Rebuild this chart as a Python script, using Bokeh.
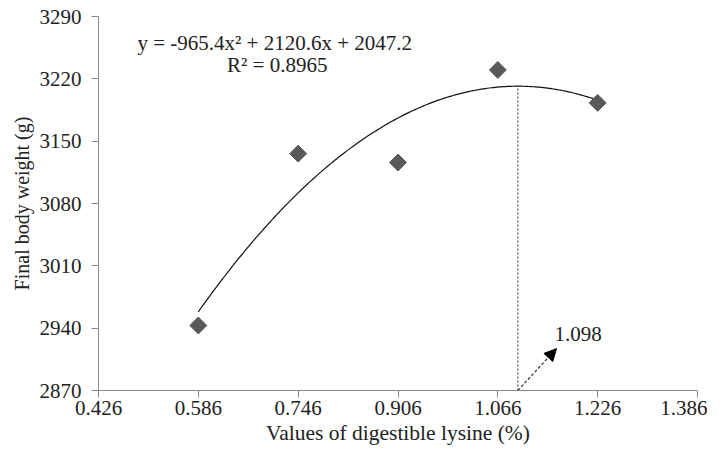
import numpy as np
from bokeh.plotting import figure
from bokeh.models import FixedTicker, Range1d, Arrow, NormalHead, Label
from bokeh.embed import file_html
from bokeh.resources import INLINE

# data
lysine = [0.586, 0.746, 0.906, 1.066, 1.226]
weight = [2943, 3136, 3126, 3230, 3193]
coef = [-965.4, 2120.6, 2047.2]  # a, b, c
x_ticks = [0.426, 0.586, 0.746, 0.906, 1.066, 1.226, 1.386]
y_ticks = [2870, 2940, 3010, 3080, 3150, 3220, 3290]
optimum = 1.098
eq_text = "y = -965.4x\u00b2 + 2120.6x + 2047.2"
r2_text = "R\u00b2 = 0.8965"

FONT = "Liberation Serif"
TXT = "#222222"
AX = "#8a8a8a"

p = figure(width=707, height=447, output_backend="svg", toolbar_location=None,
           x_range=Range1d(x_ticks[0], x_ticks[-1]), y_range=Range1d(y_ticks[0], y_ticks[-1]),
           min_border_left=98, min_border_right=10, min_border_top=16, min_border_bottom=57)
p.outline_line_color = None
p.grid.visible = False

for ax in (p.xaxis[0], p.yaxis[0]):
    ax.major_label_text_font = FONT
    ax.major_label_text_font_size = "21px"
    ax.major_label_text_color = TXT
    ax.axis_label_text_font = FONT
    ax.axis_label_text_font_style = "normal"
    ax.axis_label_text_color = TXT
    ax.axis_line_color = AX
    ax.major_tick_line_color = AX
    ax.major_tick_out = 7
    ax.major_tick_in = 0
    ax.minor_tick_line_color = None

p.xaxis.ticker = FixedTicker(ticks=x_ticks)
p.yaxis.ticker = FixedTicker(ticks=y_ticks)
p.xaxis.major_label_overrides = {t: f"{t:.3f}" for t in x_ticks}
p.xaxis.axis_label = "Values of digestible lysine (%)"
p.yaxis.axis_label = "Final body weight (g)"
p.xaxis.axis_label_text_font_size = "21.5px"
p.yaxis.axis_label_text_font_size = "20px"
p.xaxis.major_label_standoff = 3
p.xaxis.axis_label_standoff = 3
p.yaxis.major_label_standoff = 10
p.yaxis.axis_label_standoff = 4

# trend line
xs = np.linspace(lysine[0], lysine[-1], 200)
ys = coef[0] * xs ** 2 + coef[1] * xs + coef[2]
p.line(xs, ys, line_color="#111111", line_width=1.2)

# optimum vertical dotted line
y_opt = coef[0] * optimum ** 2 + coef[1] * optimum + coef[2]
p.segment(x0=[optimum], y0=[y_ticks[0]], x1=[optimum], y1=[y_opt],
          line_color="#555555", line_dash="2 2", line_width=1.2)

# arrow
p.add_layout(Arrow(end=NormalHead(size=12, fill_color="black", line_color="black"),
                   x_start=optimum, y_start=y_ticks[0], x_end=1.160, y_end=2917,
                   line_color="#333333", line_dash="3 2", line_width=1.2))
p.add_layout(Label(x=1.157, y=2934, text=f"{optimum:.3f}", text_font=FONT,
                   text_font_size="21px", text_color=TXT, text_baseline="middle"))

# points
p.scatter(lysine, weight, marker="square", angle=np.pi / 4, size=12,
          fill_color="#595959", line_color="#595959")

# equation
p.add_layout(Label(x=0.4884, y=3260, text=eq_text, text_font=FONT, text_font_size="21px",
                   text_color=TXT, text_baseline="middle"))
p.add_layout(Label(x=0.7124, y=3235, text=r2_text, text_font=FONT, text_font_size="21px",
                   text_color=TXT, text_baseline="middle", text_align="center"))

open("out.html", "w").write(file_html(p, INLINE))
